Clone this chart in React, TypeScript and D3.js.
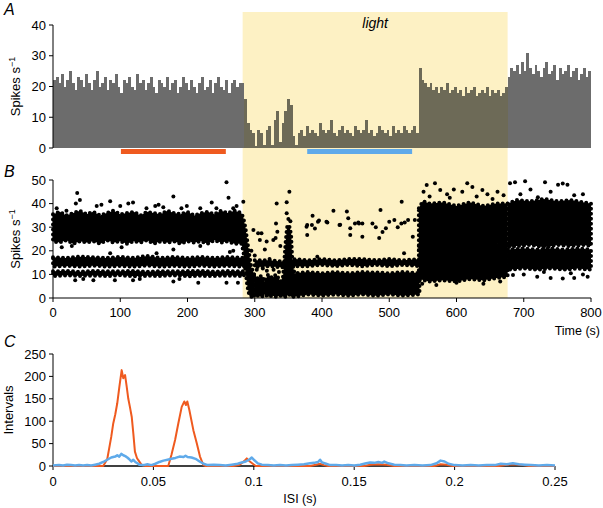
import React from "react";
import * as d3 from "d3";

const W = 603;
const H = 508;
const FONT = "'Liberation Sans', Arial, Helvetica, sans-serif";

// ---- axes / ticks ----
const TIME_TICKS = [0, 100, 200, 300, 400, 500, 600, 700, 800];
const RATE_A_TICKS = [0, 10, 20, 30, 40];
const RATE_B_TICKS = [0, 10, 20, 30, 40, 50];
const ISI_TICKS = [0, 0.05, 0.1, 0.15, 0.2, 0.25];
const ISI_TICK_LABELS = ["0", "0.05", "0.1", "0.15", "0.2", "0.25"];
const INTERVAL_TICKS = [0, 50, 100, 150, 200, 250];

// ---- light period and analysis windows (s) ----
const LIGHT_ON = 282;
const LIGHT_OFF = 676;
const CONTROL_WINDOW = [101, 257];
const LIGHT_WINDOW = [378, 534];

// ---- Panel A: firing-rate histogram, 4-s bins (spikes/s) ----
const BIN_WIDTH = 4;
const rateBaseline = [
  22, 23, 21, 24, 20, 22, 25, 21, 19, 23,
  22, 20, 24, 21, 19, 22, 25, 20, 21, 23,
  19, 22, 21, 24, 20, 18, 22, 21, 23, 20,
  19, 24, 21, 22, 19, 21, 23, 20, 18, 22,
  21, 20, 23, 19, 21, 22, 18, 20, 23, 21,
  19, 22, 20, 18, 21, 23, 19, 20, 22, 18,
  21, 23, 20, 19, 22, 18, 21, 22, 20, 21,
];
const rateLight = [
  21, 16, 8, 6, 5, 0.5, 6, 5, 1, 6,
  7, 1, 9, 12, 2, 8, 12, 16, 14, 4, 1,
  5, 6, 4, 7, 5, 6, 5, 4, 8, 6,
  5, 6, 9, 5, 4, 6, 7, 5, 6, 5,
  4, 7, 6, 5, 6, 9, 5, 6, 4, 5,
  7, 6, 5, 6, 4, 7, 5, 6, 5, 7,
  6, 5, 6, 7, 5,
];
const rateRecovery = [
  26,
  22, 21, 20, 21, 19, 20, 18, 20, 19, 21,
  18, 19, 20, 18, 19, 17, 20, 18, 19, 20,
  17, 18, 19, 18, 20, 17, 19, 18, 19, 17,
  18, 20,
];
const rateAfter = [
  23, 26, 25, 27, 24, 28, 25, 31, 26, 24,
  27, 25, 23, 26, 28, 24, 25, 27, 22, 26,
  24, 25, 27, 23, 25, 26, 22, 24, 26, 23, 25,
];

// ---- Panel B: instantaneous rate, dense bands [t, low, high] ----
const bandPreTop = [
  [0, 24, 35.5], [10, 23.5, 36.5], [20, 24.5, 35], [30, 23, 36], [40, 24, 37],
  [50, 23.5, 35.5], [60, 24, 36.5], [70, 23, 35], [80, 24.5, 36], [90, 23.5, 37],
  [100, 24, 35.5], [110, 23, 36], [120, 24, 36.5], [130, 23.5, 35], [140, 24.5, 36.5],
  [150, 23, 36], [160, 24, 35.5], [170, 23.5, 37], [180, 24, 36], [190, 23, 35.5],
  [200, 24, 36.5], [210, 23.5, 35], [220, 24, 36], [230, 23, 36.5], [240, 24.5, 35.5],
  [250, 23.5, 37], [260, 24, 36], [270, 23, 37], [280, 23, 36],
  [283, 20, 34], [286, 12, 30], [289, 5, 24], [292, 1, 18], [295, 0.5, 13], [299, 0.5, 10],
];
const bandPreMid = [
  [0, 13.3, 17.3], [20, 13.6, 17], [40, 13.3, 17.5], [60, 13.7, 17.3], [80, 13.3, 17],
  [100, 13.6, 17.4], [120, 13.3, 17], [140, 13.7, 17.8], [160, 13.3, 17], [180, 13.6, 17.4],
  [200, 13.3, 17], [220, 13.7, 17.4], [240, 13.3, 17], [260, 13.6, 17.4], [284, 13.3, 17],
];
const bandPreLow = [
  [0, 9.3, 11.3], [20, 9.6, 11.5], [40, 9.3, 11.1], [60, 9.5, 11.5], [80, 9.3, 11.3],
  [100, 9.6, 11.3], [120, 9.2, 11.5], [140, 9.4, 11.1], [160, 9.3, 11.4], [180, 9.6, 11.3],
  [200, 9.2, 11.4], [220, 9.4, 11.5], [240, 9.3, 11.2], [260, 9.5, 11.4], [284, 9.3, 11.3],
];
const bandLightLow = [
  [299, 0.5, 10], [305, 1, 8], [310, 0.5, 9.5], [315, 1.5, 7], [320, 0.5, 10],
  [326, 1, 8.5], [332, 0.5, 10], [338, 1, 7], [342, 0.5, 9], [344, 0.5, 16],
  [346, 0.5, 24], [348, 1, 30], [351, 1.5, 31], [354, 0.5, 27], [356, 0.5, 15], [359, 0.5, 10.5],
  [380, 1.5, 11], [400, 1, 10.5], [420, 1.5, 11], [440, 1, 10.5], [460, 1.5, 11],
  [480, 1, 10.8], [500, 1.5, 10.5], [520, 1, 11], [545, 1.5, 10.5],
];
const bandLightMid = [
  [300, 13, 16], [320, 13.5, 16], [340, 13, 15.5], [360, 13.5, 16.5], [380, 13.5, 16],
  [400, 14, 16.5], [420, 13.5, 16], [440, 14, 16.5], [460, 13.5, 16.5], [480, 14, 16],
  [500, 13.5, 16.5], [520, 14, 16], [545, 13.5, 16.5],
];
const bandRecoveryTop = [
  [544, 20, 38], [550, 22, 41], [560, 22.5, 40], [580, 23, 40.5], [600, 22, 39],
  [620, 23, 40.5], [640, 22, 39], [660, 23, 40], [676, 22, 40],
];
const bandRecoveryLow = [
  [544, 8, 22], [560, 7, 23], [580, 7.5, 22.5], [600, 7, 23.5], [620, 8, 23],
  [640, 7.5, 23.5], [660, 8.5, 22.5], [676, 9, 22.5],
];
const bandAfterTop = [
  [676, 21.5, 40], [690, 22, 41.5], [710, 22.5, 41], [730, 21.5, 42], [750, 22.5, 41],
  [770, 22, 41.5], [790, 22.5, 40.5], [800, 22, 40],
];
const bandAfterLow = [
  [676, 12, 20.5], [700, 12.5, 21], [720, 12, 20.5], [740, 12.5, 21], [760, 12, 20.5],
  [780, 12.5, 21], [800, 12, 20.5],
];

// ---- Panel B: sparse individual points [t, rate] ----
const sparsePre = [
  [5.5, 38], [20, 37], [34, 40], [36, 44.5], [40, 41.5], [65, 39], [72, 39.5], [85, 41],
  [100, 39], [112, 40], [119, 40.5], [139, 38], [152, 39], [157, 39.5], [164, 38.5],
  [179, 43], [191, 38], [199, 39], [219, 38], [236, 40.5], [243, 38], [258, 49],
  [261, 42.5], [268, 38], [273, 39],
  [13, 21.5], [28, 22], [85, 19], [102, 21.5], [154, 19], [179, 20.5], [219, 22],
  [263, 19.5], [268, 20],
  [33, 7.5], [45, 8], [60, 7.5], [92, 7.5], [119, 7.5], [129, 8], [179, 7], [188, 8],
  [216, 6.5], [258, 6.5], [275, 6.5],
];
const sparseLight = [
  [283, 40.8], [298, 28.8], [305, 27.4], [310, 27.4], [307.6, 24.6], [317.7, 23.9],
  [327.6, 24.6], [315, 20.6], [332.6, 40], [331.6, 31.6], [333.6, 28.1], [331, 25.4],
  [347.5, 40.6], [351.5, 45], [347.5, 35.9], [350, 33.5], [353, 32.5], [378, 30.9], [378, 26.7], [386, 34.9],
  [389.5, 29.5], [395.5, 32.8], [408, 32], [417, 37], [426, 30.9], [437, 36.7],
  [439, 33.8], [442, 26.7], [449, 31.6], [454, 32], [377, 30.2], [385, 30.9],
  [394, 32.3], [406.6, 32.3], [427, 31], [442, 29.6], [455, 31.6], [460, 31.6],
  [460, 26], [475, 31.6], [480, 30], [487, 37.3], [485, 25.4], [490, 28], [495, 29.6],
  [500, 32.3], [507.6, 33], [512.6, 30], [518.5, 40.8], [518, 31.6], [523, 32],
  [528, 33], [535, 26], [538, 33], [522, 19], [393, 17.5], [300, 18], [322, 16.5],
  [338, 22], [295, 20], [312, 12.5], [303, 12], [318, 11.5], [328, 12], [336, 11],
];
const sparsePost = [
  [551, 45], [555.7, 47.9], [568, 48.6], [575.8, 45.8], [586, 44], [596, 46],
  [608.6, 45], [616, 48.6], [623.6, 47], [638.5, 45.8], [646, 44], [653.6, 42],
  [661, 45], [560, 43], [590, 42.5], [630, 43], [670, 43.5], [549, 6], [570, 5.5],
  [600, 6.5], [640, 6], [665, 7],
  [679.6, 48.6], [687, 49], [702, 49.5], [731.6, 49], [751, 48], [758, 48.5],
  [765, 48], [788, 44], [721, 42.7], [695, 44], [740, 45], [775, 43.5], [710, 46],
  [684, 9.7], [700, 10], [720, 9], [740, 8.5], [758, 8.3], [775, 8.5], [788, 10],
  [795, 9], [730, 11], [770, 10.5],
];

// ---- Panel C: ISI histograms [isi (s), intervals] ----
const isiControl = [
  [0, 0], [0.01, 0], [0.02, 0], [0.025, 0], [0.027, 15], [0.028, 40], [0.029, 65],
  [0.03, 95], [0.031, 115], [0.032, 140], [0.033, 175], [0.0342, 214], [0.035, 196],
  [0.0359, 203], [0.0367, 177], [0.0375, 150], [0.0383, 132], [0.0392, 110],
  [0.04, 73], [0.0408, 32], [0.0418, 18], [0.0425, 13], [0.0442, 2], [0.046, 0],
  [0.0574, 0], [0.059, 25], [0.0608, 58], [0.0624, 95], [0.0641, 132], [0.0654, 144],
  [0.0662, 136], [0.0669, 144], [0.0679, 125], [0.0699, 80], [0.0716, 51],
  [0.0732, 21], [0.0749, 2], [0.076, 0], [0.09, 0], [0.093, 3], [0.0955, 12],
  [0.0965, 17], [0.098, 10], [0.0995, 5], [0.101, 0], [0.128, 0], [0.131, 3],
  [0.133, 5], [0.135, 2], [0.137, 0], [0.155, 0], [0.158, 3], [0.162, 4], [0.166, 3],
  [0.17, 0], [0.19, 0], [0.193, 4], [0.196, 3], [0.199, 0], [0.222, 0], [0.226, 3],
  [0.23, 4], [0.234, 2], [0.237, 0], [0.25, 0],
];
const isiLight = [
  [0, 1], [0.003, 2], [0.005, 1], [0.007, 3], [0.009, 2], [0.011, 1], [0.013, 2],
  [0.015, 1], [0.017, 2], [0.019, 1], [0.021, 3], [0.023, 5], [0.025, 9], [0.027, 14],
  [0.029, 19], [0.031, 21], [0.032, 24], [0.033, 21], [0.034, 27], [0.035, 24],
  [0.036, 22], [0.037, 19], [0.038, 15], [0.039, 10], [0.04, 14], [0.041, 9],
  [0.042, 6], [0.043, 3], [0.045, 2], [0.047, 4], [0.049, 2], [0.051, 5], [0.053, 9],
  [0.055, 12], [0.057, 14], [0.059, 16], [0.061, 18], [0.063, 21], [0.065, 20],
  [0.066, 23], [0.067, 20], [0.069, 19], [0.071, 16], [0.073, 10], [0.075, 5],
  [0.077, 2], [0.08, 3], [0.083, 2], [0.086, 1], [0.089, 3], [0.092, 5], [0.094, 8],
  [0.096, 10], [0.098, 15], [0.099, 19], [0.1, 14], [0.102, 6], [0.104, 3],
  [0.107, 2], [0.11, 1], [0.113, 2], [0.116, 1], [0.119, 2], [0.122, 3], [0.125, 4],
  [0.128, 6], [0.13, 7], [0.132, 9], [0.133, 14], [0.134, 8], [0.136, 5], [0.138, 2],
  [0.141, 2], [0.144, 1], [0.147, 2], [0.15, 1], [0.153, 3], [0.156, 6], [0.158, 8],
  [0.16, 7], [0.162, 9], [0.164, 7], [0.165, 10], [0.167, 6], [0.17, 3], [0.173, 2],
  [0.176, 1], [0.18, 2], [0.184, 1], [0.188, 2], [0.191, 6], [0.193, 12], [0.195, 10],
  [0.197, 5], [0.2, 2], [0.204, 1], [0.208, 2], [0.212, 1], [0.216, 2], [0.22, 2],
  [0.223, 5], [0.226, 4], [0.229, 6], [0.232, 4], [0.235, 3], [0.238, 2], [0.242, 1],
  [0.246, 2], [0.25, 1],
];

const COLORS = {
  light: "#fdf1c4",
  barOut: "#6c6c6c",
  barIn: "#6d6a57",
  control: "#ef5a1f",
  lightWin: "#5faaea",
};

export default function App() {
  const xT = d3.scaleLinear().domain([0, 800]).range([53, 591]);
  const yA = d3.scaleLinear().domain([0, 40]).range([148, 25]);
  const yB = d3.scaleLinear().domain([0, 50]).range([298, 180]);
  const xC = d3.scaleLinear().domain([0, 0.25]).range([53, 555]);
  const yC = d3.scaleLinear().domain([0, 250]).range([466, 354]);

  const rates = [...rateBaseline, ...rateLight, ...rateRecovery, ...rateAfter];
  const barW = xT(BIN_WIDTH) - xT(0);

  const band = d3
    .area<number[]>()
    .x((d) => xT(d[0]))
    .y0((d) => yB(d[1]))
    .y1((d) => yB(d[2]));
  const bands = [
    bandPreTop, bandPreMid, bandPreLow, bandLightLow, bandLightMid,
    bandRecoveryTop, bandRecoveryLow, bandAfterTop, bandAfterLow,
  ];
  const points = [...sparsePre, ...sparseLight, ...sparsePost];

  const line = d3
    .line<number[]>()
    .x((d) => xC(d[0]))
    .y((d) => yC(d[1]));

  const tickText = { fontFamily: FONT, fontSize: 13, fill: "#000" } as const;

  return (
    <svg width={W} height={H} style={{ display: "block", position: "absolute", left: 0, top: 0 }}>
      <rect x={0} y={0} width={W} height={H} fill="#fff" />
      {/* light shading */}
      <rect x={xT(LIGHT_ON)} y={12} width={xT(LIGHT_OFF) - xT(LIGHT_ON)} height={298 - 12} fill={COLORS.light} />
      <text x={(xT(LIGHT_ON) + xT(LIGHT_OFF)) / 2} y={28} textAnchor="middle" fontFamily={FONT} fontSize={14} fontStyle="italic">light</text>

      {/* Panel A */}
      <text x={4} y={15} fontFamily={FONT} fontSize={16} fontStyle="italic">A</text>
      <g shapeRendering="crispEdges">
        {rates.map((v, i) => {
          const t0 = i * BIN_WIDTH;
          const inLight = t0 >= LIGHT_ON && t0 < LIGHT_OFF;
          return (
            <rect key={i} x={xT(t0)} y={yA(v)} width={barW + 0.2} height={yA(0) - yA(v)}
              fill={inLight ? COLORS.barIn : COLORS.barOut} />
          );
        })}
      </g>
      <line x1={53} x2={53} y1={yA(40)} y2={yA(0)} stroke="#000" strokeWidth={1} />
      {RATE_A_TICKS.map((t) => (
        <g key={t}>
          <line x1={49} x2={53} y1={yA(t)} y2={yA(t)} stroke="#000" />
          <text x={46} y={yA(t) + 4.5} textAnchor="end" {...tickText}>{t}</text>
        </g>
      ))}
      <text transform={`translate(20,${yA(20)}) rotate(-90)`} textAnchor="middle" fontFamily={FONT} fontSize={13}>
        Spikes s<tspan dy={-5} fontSize={9}>−1</tspan>
      </text>
      <rect x={xT(CONTROL_WINDOW[0])} y={149} width={xT(CONTROL_WINDOW[1]) - xT(CONTROL_WINDOW[0])} height={5} fill={COLORS.control} />
      <rect x={xT(LIGHT_WINDOW[0])} y={149} width={xT(LIGHT_WINDOW[1]) - xT(LIGHT_WINDOW[0])} height={5} fill={COLORS.lightWin} />

      {/* Panel B */}
      <text x={4} y={177} fontFamily={FONT} fontSize={16} fontStyle="italic">B</text>
      <g>
        {bands.map((b, i) => (
          <path key={i} d={band(b) || ""} fill="#000" stroke="#000" strokeWidth={4} strokeDasharray="0 5" strokeLinecap="round" />
        ))}
        {points.map((p, i) => (
          <circle key={i} cx={xT(p[0])} cy={yB(p[1])} r={2} fill="#000" />
        ))}
      </g>
      <line x1={53} x2={53} y1={yB(50)} y2={yB(0)} stroke="#000" />
      <line x1={53} x2={591} y1={yB(0)} y2={yB(0)} stroke="#000" />
      {RATE_B_TICKS.map((t) => (
        <g key={t}>
          <line x1={49} x2={53} y1={yB(t)} y2={yB(t)} stroke="#000" />
          <text x={46} y={yB(t) + 4.5} textAnchor="end" {...tickText}>{t}</text>
        </g>
      ))}
      {TIME_TICKS.map((t) => (
        <g key={t}>
          <line x1={xT(t)} x2={xT(t)} y1={298} y2={302} stroke="#000" />
          <text x={xT(t)} y={317} textAnchor="middle" {...tickText}>{t}</text>
        </g>
      ))}
      <text x={600} y={335} textAnchor="end" fontFamily={FONT} fontSize={12.5}>Time (s)</text>
      <text transform={`translate(20,${yB(25)}) rotate(-90)`} textAnchor="middle" fontFamily={FONT} fontSize={13}>
        Spikes s<tspan dy={-5} fontSize={9}>−1</tspan>
      </text>

      {/* Panel C */}
      <text x={4} y={347} fontFamily={FONT} fontSize={16} fontStyle="italic">C</text>
      <line x1={53} x2={53} y1={yC(250)} y2={yC(0)} stroke="#000" />
      <line x1={53} x2={555} y1={yC(0)} y2={yC(0)} stroke="#000" strokeWidth={1.5} />
      {INTERVAL_TICKS.map((t) => (
        <g key={t}>
          <line x1={49} x2={53} y1={yC(t)} y2={yC(t)} stroke="#000" />
          <text x={46} y={yC(t) + 4.5} textAnchor="end" {...tickText}>{t}</text>
        </g>
      ))}
      {ISI_TICKS.map((t, i) => (
        <g key={t}>
          <line x1={xC(t)} x2={xC(t)} y1={466} y2={470} stroke="#000" />
          <text x={xC(t)} y={486} textAnchor="middle" {...tickText}>{ISI_TICK_LABELS[i]}</text>
        </g>
      ))}
      <text x={300} y={503} textAnchor="middle" fontFamily={FONT} fontSize={12.5}>ISI (s)</text>
      <text transform={`translate(13,${yC(125)}) rotate(-90)`} textAnchor="middle" fontFamily={FONT} fontSize={13}>Intervals</text>
      <path d={line(isiControl) || ""} fill="none" stroke={COLORS.control} strokeWidth={2} strokeLinejoin="round" />
      <path d={line(isiLight) || ""} fill="none" stroke={COLORS.lightWin} strokeWidth={2.5} strokeLinejoin="round" />
    </svg>
  );
}
